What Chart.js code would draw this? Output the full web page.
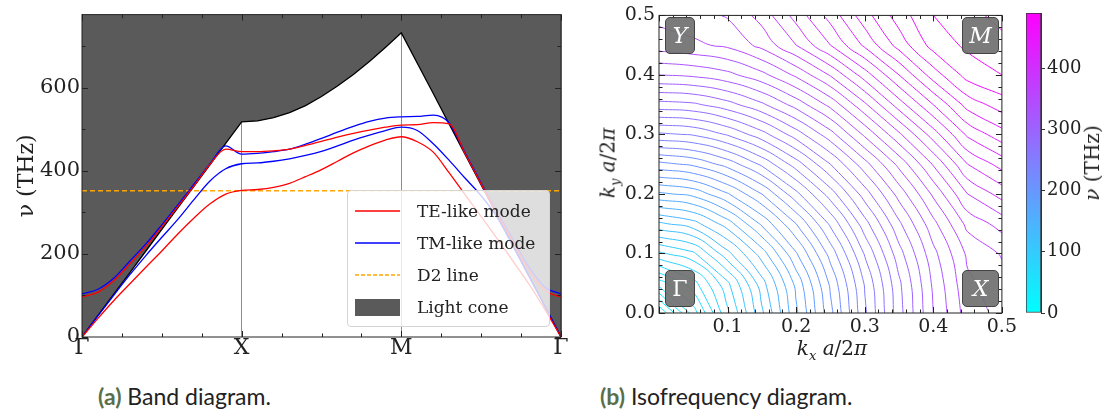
<!DOCTYPE html>
<html>
<head>
<meta charset="utf-8">
<script src="https://cdn.jsdelivr.net/npm/chart.js@4.4.1/dist/chart.umd.min.js"></script>
<style>
  body { margin: 0; width: 1106px; height: 418px; background: #fff; position: relative; overflow: hidden;
         font-family: 'DejaVu Serif', 'Times New Roman', serif; color: #222; }
  .abs { position: absolute; }
  .legend { left: 347px; top: 190px; width: 203px; height: 137px; background: rgba(255,255,255,0.8);
            border: 1px solid #d4d4d4; border-radius: 4px; box-sizing: border-box; font-size: 17px; }
  .legend .row { position: absolute; left: 7px; height: 30px; display: flex; align-items: center; white-space: nowrap; }
  .legend .row span { margin-left: 17px; }
  .corner { width: 30px; height: 37px; background: rgba(112,112,112,0.92); border: 1px solid #444; border-radius: 5px;
            box-sizing: border-box; color: #fff; font-size: 22px; display: flex; align-items: center; justify-content: center; z-index: 2; }
  .caption { font-family: Lato, 'Noto Sans', sans-serif; font-size: 23px; color: #222; top: 382px; }
  .caption b { font-weight: 700; color: #5a6e49; }
  .title { font-size: 20px; white-space: nowrap; }
</style>
</head>
<body>
<div class="abs" style="left:0;top:0;width:575px;height:375px"><canvas id="bandChart"></canvas></div>
<div class="abs" style="left:590px;top:0;width:430px;height:370px"><canvas id="isoChart"></canvas></div>
<div class="abs" style="left:1015px;top:0;width:91px;height:330px"><canvas id="barChart"></canvas></div>

<div class="abs legend">
  <div class="row" style="top:5px"><svg width="45" height="4"><line x1="0" y1="2" x2="45" y2="2" stroke="red" stroke-width="1.5"/></svg><span>TE-like mode</span></div>
  <div class="row" style="top:37px"><svg width="45" height="4"><line x1="0" y1="2" x2="45" y2="2" stroke="blue" stroke-width="1.5"/></svg><span>TM-like mode</span></div>
  <div class="row" style="top:69px"><svg width="45" height="4"><line x1="0" y1="2" x2="45" y2="2" stroke="orange" stroke-width="1.3" stroke-dasharray="4 2"/></svg><span>D2 line</span></div>
  <div class="row" style="top:101px"><svg width="45" height="17"><rect width="45" height="17" fill="#5a5a5a"/></svg><span>Light cone</span></div>
</div>

<div class="abs corner" style="left:665px;top:17px"><i>Y</i></div>
<div class="abs corner" style="left:962px;top:17px;width:37px"><i>M</i></div>
<div class="abs corner" style="left:665px;top:270px">Γ</div>
<div class="abs corner" style="left:962px;top:270px;width:37px"><i>X</i></div>

<div class="abs title" style="left:832px;top:349px;transform:translate(-50%,-50%)"><i>k<sub style="font-size:13px">x</sub> a</i>/2<i>π</i></div>
<div class="abs title" style="left:609px;top:163px;transform:translate(-50%,-50%) rotate(-90deg)"><i>k<sub style="font-size:13px">y</sub> a</i>/2<i>π</i></div>
<div class="abs title" style="left:1092px;top:163px;transform:translate(-50%,-50%) rotate(-90deg)"><i>ν</i> (THz)</div>

<div class="abs caption" style="left:98px"><b>(a)</b> Band diagram.</div>
<div class="abs caption" style="left:600px"><b>(b)</b> Isofrequency diagram.</div>

<script>
// k-path Γ-X-M-Γ, each segment sampled in tenths
const pathLabels = ['Γ', 'X', 'M', 'Γ'];
const kPath = [0, 0.1, 0.2, 0.3, 0.4, 0.5, 0.6, 0.7, 0.8, 0.9, 1.0,
  1.1, 1.2, 1.3, 1.4, 1.5, 1.6, 1.7, 1.8, 1.9, 2.0,
  2.1, 2.2, 2.3, 2.4, 2.5, 2.6, 2.7, 2.8, 2.9, 3.0];
const bandTicks = [0, 200, 400, 600];

// frequencies in THz
const lightCone = [0, 52, 104, 155, 207, 259, 311, 362, 414, 466, 518,
  520, 528, 540, 557, 579, 604, 632, 663, 697, 732,
  659, 586, 512, 439, 366, 293, 220, 146, 73, 0];
const teLow = [0, 45, 88, 128, 168, 207, 248, 286, 320, 344, 353,
  355, 360, 370, 386, 403, 423, 443, 460, 474, 482,
  470, 445, 395, 342, 290, 237, 182, 127, 66, 0];
const tmLow = [0, 51, 101, 150, 196, 240, 283, 330, 375, 405, 417,
  419, 423, 429, 437, 447, 460, 474, 486, 497, 505,
  497, 465, 425, 382, 340, 288, 218, 146, 73, 0];
const teHigh = [96, 108, 136, 176, 218, 265, 314, 363, 415, 452, 446,
  446, 448, 452, 461, 471, 481, 490, 498, 505, 510,
  511, 516, 513, 441, 368, 297, 229, 160, 112, 96];
const tmHigh = [104, 115, 142, 183, 224, 270, 318, 367, 416, 460, 440,
  442, 446, 452, 464, 478, 493, 507, 519, 527, 530,
  531, 534, 515, 443, 370, 300, 234, 168, 120, 104];
const d2Line = 352;

// lowest band over the first quadrant, kx and ky in units of 2π/a
const kGrid = [0, 0.05, 0.1, 0.15, 0.2, 0.25, 0.3, 0.35, 0.4, 0.45, 0.5];
const nuGrid = [ // rows: ky, columns: kx
  [0, 45, 88, 128, 168, 207, 248, 286, 320, 345, 353],
  [45, 66, 98, 136, 173, 212, 251, 288, 322, 348, 356],
  [88, 98, 127, 155, 189, 224, 261, 296, 327, 352, 361],
  [128, 136, 155, 182, 210, 242, 276, 308, 337, 363, 374],
  [168, 173, 189, 210, 237, 265, 295, 324, 352, 380, 394],
  [207, 212, 224, 242, 265, 290, 316, 343, 371, 400, 414],
  [248, 251, 261, 276, 295, 316, 342, 368, 395, 422, 436],
  [286, 288, 296, 308, 324, 343, 368, 395, 420, 444, 455],
  [320, 322, 327, 337, 352, 371, 395, 420, 445, 464, 470],
  [345, 348, 352, 363, 380, 400, 422, 444, 464, 472, 478],
  [353, 356, 361, 374, 394, 414, 436, 455, 470, 478, 482]
];
const contourStep = 10;
const colorMax = 490;
const cbarTicks = [0, 100, 200, 300, 400];

Chart.defaults.font.family = "'DejaVu Serif', 'Times New Roman', serif";
Chart.defaults.color = '#222';
Chart.defaults.animation = false;

// matplotlib style frame with inward ticks on all four sides
const frameTicks = {
  id: 'frameTicks',
  afterDraw(chart, args, o) {
    const { ctx, chartArea: a, scales: { x, y } } = chart;
    ctx.save();
    ctx.strokeStyle = '#222';
    ctx.lineWidth = 1;
    ctx.beginPath();
    const nx = Math.round((x.max - x.min) / o.xMinor);
    for (let i = 0; i <= nx; i++) {
      const px = Math.round(x.getPixelForValue(x.min + i * o.xMinor)) + 0.5;
      const len = i % o.xEvery === 0 ? 6 : 3.5;
      ctx.moveTo(px, a.bottom); ctx.lineTo(px, a.bottom - len);
      ctx.moveTo(px, a.top); ctx.lineTo(px, a.top + len);
    }
    const ny = Math.round((o.yTop - y.min) / o.yMinor);
    for (let i = 0; i <= ny; i++) {
      const py = Math.round(y.getPixelForValue(y.min + i * o.yMinor)) + 0.5;
      const len = i % o.yEvery === 0 ? 6 : 3.5;
      ctx.moveTo(a.left, py); ctx.lineTo(a.left + len, py);
      ctx.moveTo(a.right, py); ctx.lineTo(a.right - len, py);
    }
    ctx.stroke();
    ctx.strokeRect(a.left, a.top, a.right - a.left, a.bottom - a.top);
    ctx.restore();
  }
};

const pts = arr => kPath.map((k, i) => ({ x: k, y: arr[i] }));
const band = (label, arr, color) => ({
  label, data: pts(arr), borderColor: color, borderWidth: 1.3, pointRadius: 0,
  cubicInterpolationMode: 'monotone', fill: false, order: 1
});

// (a) band diagram
new Chart(document.getElementById('bandChart'), {
  type: 'line',
  data: {
    datasets: [
      band('TE-like mode', teLow, '#ff0000'),
      band('TE-like mode', teHigh, '#ff0000'),
      band('TM-like mode', tmLow, '#0000ff'),
      band('TM-like mode', tmHigh, '#0000ff'),
      { label: 'D2 line', data: [{ x: 0, y: d2Line }, { x: 3, y: d2Line }], borderColor: 'orange',
        borderWidth: 1.3, borderDash: [5, 3], pointRadius: 0, fill: false, order: 2 },
      { label: 'Light cone', data: pts(lightCone), borderColor: '#000', borderWidth: 1.3,
        backgroundColor: '#5a5a5a', pointRadius: 0, fill: 'end', order: 3 }
    ]
  },
  options: {
    responsive: true, maintainAspectRatio: false,
    layout: { padding: { top: 4, right: 14 } },
    plugins: { legend: { display: false }, tooltip: { enabled: false },
      frameTicks: { xMinor: 0.25, xEvery: 4, yMinor: 100, yEvery: 2, yTop: 700 } },
    scales: {
      x: {
        type: 'linear', min: 0, max: 3, z: 1,
        afterBuildTicks: s => { s.ticks = pathLabels.map((l, i) => ({ value: i })); },
        ticks: { padding: -2, font: { size: 22 }, callback: v => pathLabels[v] },
        grid: { color: 'rgba(0,0,0,0.45)', drawTicks: false },
        border: { display: false },
        afterFit: s => { s.height = 38; }
      },
      y: {
        min: 0, max: 776,
        afterBuildTicks: s => { s.ticks = bandTicks.map(v => ({ value: v })); },
        ticks: { padding: 2, font: { size: 21 } },
        grid: { display: false, drawTicks: false },
        border: { display: false },
        title: { display: true, text: 'ν (THz)', font: { size: 22 }, padding: { top: 14 } },
        afterFit: s => { s.width = 82; }
      }
    }
  },
  plugins: [frameTicks]
});

// (b) isofrequency contours via marching squares on the grid
function contourLines(level) {
  const n = kGrid.length;
  const val = (i, j) => nuGrid[j][i];
  const pos = {}, adj = {};
  const link = (a, b) => { (adj[a] = adj[a] || []).push(b); (adj[b] = adj[b] || []).push(a); };
  for (let j = 0; j < n - 1; j++) {
    for (let i = 0; i < n - 1; i++) {
      const edges = [
        ['h' + i + '_' + j, i, j, i + 1, j],
        ['v' + (i + 1) + '_' + j, i + 1, j, i + 1, j + 1],
        ['h' + i + '_' + (j + 1), i, j + 1, i + 1, j + 1],
        ['v' + i + '_' + j, i, j, i, j + 1]
      ];
      const hit = [];
      for (const [key, i0, j0, i1, j1] of edges) {
        const v0 = val(i0, j0), v1 = val(i1, j1);
        if ((v0 > level) !== (v1 > level)) {
          const t = (level - v0) / (v1 - v0);
          pos[key] = { x: kGrid[i0] + t * (kGrid[i1] - kGrid[i0]), y: kGrid[j0] + t * (kGrid[j1] - kGrid[j0]) };
          hit.push(key);
        }
      }
      if (hit.length === 2) link(hit[0], hit[1]);
      else if (hit.length === 4) { link(hit[0], hit[1]); link(hit[2], hit[3]); }
    }
  }
  const used = new Set(), lines = [];
  const walk = start => {
    const line = [start];
    used.add(start);
    let cur = start;
    for (;;) {
      const next = adj[cur].find(k => !used.has(k));
      if (!next) break;
      used.add(next); line.push(next); cur = next;
    }
    return line.map(k => pos[k]);
  };
  Object.keys(adj).forEach(k => { if (adj[k].length === 1 && !used.has(k)) lines.push(walk(k)); });
  Object.keys(adj).forEach(k => { if (!used.has(k)) lines.push(walk(k)); });
  return lines;
}

const cool = t => `rgb(${Math.round(255 * t)},${Math.round(255 * (1 - t))},255)`;
const contourSets = [];
for (let lv = contourStep; lv < colorMax; lv += contourStep) {
  const data = [];
  contourLines(lv).forEach(l => {
    if (data.length) data.push({ x: NaN, y: NaN });
    data.push(...l);
  });
  contourSets.push({ data, showLine: true, borderColor: cool(lv / colorMax), borderWidth: 1,
    pointRadius: 0, tension: 0.45, spanGaps: false });
}

new Chart(document.getElementById('isoChart'), {
  type: 'scatter',
  data: { datasets: contourSets },
  options: {
    responsive: true, maintainAspectRatio: false,
    layout: { padding: { top: 13, right: 16 } },
    plugins: { legend: { display: false }, tooltip: { enabled: false },
      frameTicks: { xMinor: 0.02, xEvery: 5, yMinor: 0.02, yEvery: 5, yTop: 0.5 } },
    scales: {
      x: {
        min: 0, max: 0.5,
        ticks: { stepSize: 0.1, padding: 3, font: { size: 19 }, callback: v => v === 0 ? '' : v.toFixed(1) },
        grid: { display: false, drawTicks: false }, border: { display: false },
        afterFit: s => { s.height = 57; }
      },
      y: {
        min: 0, max: 0.5,
        ticks: { stepSize: 0.1, padding: 4, font: { size: 19 }, callback: v => v.toFixed(1) },
        grid: { display: false, drawTicks: false }, border: { display: false },
        afterFit: s => { s.width = 69; }
      }
    }
  },
  plugins: [frameTicks]
});

// colorbar
new Chart(document.getElementById('barChart'), {
  type: 'bar',
  data: {
    labels: ['ν'],
    datasets: [{
      data: [[0, colorMax]], barPercentage: 1, categoryPercentage: 1,
      borderWidth: 1, borderColor: '#333', borderSkipped: false,
      backgroundColor: ctx => {
        const a = ctx.chart.chartArea;
        if (!a) return '#888';
        const g = ctx.chart.ctx.createLinearGradient(0, a.bottom, 0, a.top);
        g.addColorStop(0, cool(0));
        g.addColorStop(1, cool(1));
        return g;
      }
    }]
  },
  options: {
    responsive: true, maintainAspectRatio: false,
    layout: { padding: { top: 13, left: 11, bottom: 17 } },
    plugins: { legend: { display: false }, tooltip: { enabled: false } },
    scales: {
      x: { display: false },
      y: {
        position: 'right', min: 0, max: colorMax,
        afterBuildTicks: s => { s.ticks = cbarTicks.map(v => ({ value: v })); },
        ticks: { padding: 2, font: { size: 18 } },
        grid: { drawOnChartArea: false, tickLength: 4, color: '#333' },
        border: { color: '#333' },
        afterFit: s => { s.width = 65; }
      }
    }
  }
});
</script>
</body>
</html>
